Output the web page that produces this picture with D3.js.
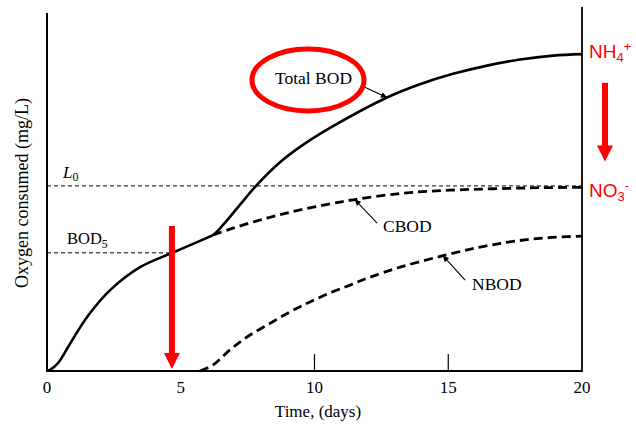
<!DOCTYPE html>
<html>
<head>
<meta charset="utf-8">
<script src="https://cdn.jsdelivr.net/npm/d3@7"></script>
<style>
    body { margin: 0; background: #fff; }
    svg { display: block; }
    .serif { font-family: "Liberation Serif", "DejaVu Serif", serif; fill: #000; }
    .red { font-family: "Liberation Sans", Arial, sans-serif; fill: #ff0000; }
</style>
</head>
<body>
<script>
// days, mg/L (no values printed on the y axis, units are relative)
var totalDays = [0, 0.11, 0.41, 0.75, 1.12, 1.61, 2.36, 3.48, 4.71, 5.98, 6.21, 6.58, 7.21, 7.85, 8.71, 9.46, 10.58, 12.71, 13.94, 15.18, 16.45, 17.68, 18.92, 20];
var totalBOD = [0, 0.03, 0.22, 0.62, 1.08, 1.62, 2.26, 2.90, 3.31, 3.72, 3.80, 4.08, 4.64, 5.20, 5.83, 6.26, 6.79, 7.64, 8.01, 8.30, 8.53, 8.70, 8.81, 8.85];

var cbodDays = [6.21, 6.95, 8.22, 9.46, 10.95, 11.51, 13.20, 15.07, 18.43, 20];
var cbod = [3.80, 3.99, 4.27, 4.50, 4.72, 4.79, 4.96, 5.05, 5.12, 5.13];

var nbodDays = [5.72, 6.21, 6.84, 7.48, 8.22, 9.08, 9.83, 10.58, 11.33, 12.00, 13.20, 14.80, 16.19, 17.42, 18.69, 20];
var nbod = [0, 0.17, 0.59, 0.95, 1.28, 1.65, 1.93, 2.18, 2.40, 2.60, 2.90, 3.22, 3.46, 3.62, 3.72, 3.77];

var L0 = 5.17;
var BOD5 = 3.30;
var bod5Day = 4.67;

var tickLabels = [0, 5, 10, 15, 20];
var innerTicks = [10, 15];

var width = 636,
    height = 425;

var x = d3.scaleLinear().domain([0, 20]).range([47, 582]);
var y = d3.scaleLinear().domain([0, 10]).range([371, 13]);

var svg = d3.select("body").append("svg")
    .attr("width", width)
    .attr("height", height);

var line = d3.line()
    .x(function (d) { return x(d[0]); })
    .y(function (d) { return y(d[1]); })
    .curve(d3.curveCatmullRom.alpha(0.5));

function pairs(xs, ys) {
    return xs.map(function (d, i) { return [d, ys[i]]; });
}

// reference lines L0 and BOD5
svg.append("line")
    .attr("x1", x(0)).attr("x2", x(20))
    .attr("y1", y(L0)).attr("y2", y(L0))
    .attr("stroke", "#000").attr("stroke-width", 1)
    .attr("stroke-dasharray", "4,3");

svg.append("line")
    .attr("x1", x(0)).attr("x2", x(bod5Day))
    .attr("y1", y(BOD5)).attr("y2", y(BOD5))
    .attr("stroke", "#000").attr("stroke-width", 1)
    .attr("stroke-dasharray", "4,3");

// curves
svg.append("path")
    .datum(pairs(totalDays, totalBOD))
    .attr("d", line)
    .attr("fill", "none").attr("stroke", "#000").attr("stroke-width", 2.6);

svg.append("path")
    .datum(pairs(cbodDays, cbod))
    .attr("d", line)
    .attr("fill", "none").attr("stroke", "#000").attr("stroke-width", 2.8)
    .attr("stroke-dasharray", "9,5");

svg.append("path")
    .datum(pairs(nbodDays, nbod))
    .attr("d", line)
    .attr("fill", "none").attr("stroke", "#000").attr("stroke-width", 2.8)
    .attr("stroke-dasharray", "9,5");

// frame
svg.append("line").attr("x1", x(0)).attr("x2", x(0)).attr("y1", 13).attr("y2", y(0) + 1)
    .attr("stroke", "#000").attr("stroke-width", 2);
svg.append("line").attr("x1", x(0)).attr("x2", x(20)).attr("y1", y(0)).attr("y2", y(0))
    .attr("stroke", "#000").attr("stroke-width", 2);
svg.append("line").attr("x1", x(20)).attr("x2", x(20)).attr("y1", 7).attr("y2", y(0) + 1)
    .attr("stroke", "#000").attr("stroke-width", 1.8);

svg.selectAll(".tick-in")
    .data(innerTicks)
    .enter().append("line")
    .attr("x1", function (d) { return x(d); })
    .attr("x2", function (d) { return x(d); })
    .attr("y1", y(0)).attr("y2", y(0) - 17)
    .attr("stroke", "#000").attr("stroke-width", 1.2);

svg.selectAll(".tick-label")
    .data(tickLabels)
    .enter().append("text")
    .attr("class", "serif")
    .attr("x", function (d) { return x(d); })
    .attr("y", 393)
    .attr("text-anchor", "middle")
    .style("font-size", "17px")
    .text(function (d) { return d; });

svg.append("text")
    .attr("class", "serif")
    .attr("x", 318).attr("y", 417)
    .attr("text-anchor", "middle")
    .style("font-size", "17px")
    .text("Time, (days)");

svg.append("text")
    .attr("class", "serif")
    .attr("transform", "translate(28,193) rotate(-90)")
    .attr("text-anchor", "middle")
    .style("font-size", "18px")
    .text("Oxygen consumed (mg/L)");

// L0 and BOD5 labels
var l0 = svg.append("text").attr("class", "serif")
    .attr("x", 63).attr("y", 178).style("font-size", "17px");
l0.append("tspan").style("font-style", "italic").text("L");
l0.append("tspan").attr("dy", 3).style("font-size", "12px").text("0");

var b5 = svg.append("text").attr("class", "serif")
    .attr("x", 67).attr("y", 244).style("font-size", "16.5px");
b5.append("tspan").text("BOD");
b5.append("tspan").attr("dy", 4).style("font-size", "12px").text("5");

// curve labels with little arrows
var labels = [
    { text: "Total BOD", tx: 275, ty: 84, from: [11.78, 7.96], to: [12.71, 7.64] },
    { text: "CBOD", tx: 383, ty: 232, from: [12.34, 4.13], to: [11.51, 4.79] },
    { text: "NBOD", tx: 472, ty: 290, from: [15.63, 2.54], to: [14.80, 3.22] }
];

svg.append("defs").append("marker")
    .attr("id", "tip")
    .attr("viewBox", "0 0 10 10")
    .attr("refX", 10).attr("refY", 5)
    .attr("markerWidth", 8).attr("markerHeight", 6)
    .attr("markerUnits", "userSpaceOnUse")
    .attr("orient", "auto")
    .append("path").attr("d", "M0,0L10,5L0,10Z").attr("fill", "#000");

labels.forEach(function (d) {
    svg.append("text").attr("class", "serif")
        .attr("x", d.tx).attr("y", d.ty)
        .style("font-size", "17.5px")
        .text(d.text);
    svg.append("line")
        .attr("x1", x(d.from[0])).attr("y1", y(d.from[1]))
        .attr("x2", x(d.to[0])).attr("y2", y(d.to[1]))
        .attr("stroke", "#000").attr("stroke-width", 1.1)
        .attr("marker-end", "url(#tip)");
});

// red highlights
svg.append("ellipse")
    .attr("cx", 308).attr("cy", 80).attr("rx", 56).attr("ry", 31)
    .attr("fill", "none").attr("stroke", "#ff0000").attr("stroke-width", 5);

function redArrow(xp, y1, y2) {
    svg.append("rect")
        .attr("x", xp - 3).attr("y", y1)
        .attr("width", 6).attr("height", y2 - y1 - 15)
        .attr("fill", "#ff0000");
    svg.append("path")
        .attr("d", "M" + (xp - 8) + "," + (y2 - 16) + "L" + (xp + 8) + "," + (y2 - 16) + "L" + xp + "," + y2 + "Z")
        .attr("fill", "#ff0000");
}

redArrow(x(bod5Day), y(4.05), y(0) - 2);
redArrow(x(20) + 23, y(8.05), y(5.85));

var nh4 = svg.append("text").attr("class", "red")
    .attr("x", x(20) + 7).attr("y", 58).style("font-size", "19px");
nh4.append("tspan").text("NH");
nh4.append("tspan").attr("dy", 4).style("font-size", "13px").text("4");
nh4.append("tspan").attr("dy", -11).style("font-size", "13px").text("+");

var no3 = svg.append("text").attr("class", "red")
    .attr("x", x(20) + 7).attr("y", 197).style("font-size", "19px");
no3.append("tspan").text("NO");
no3.append("tspan").attr("dy", 4).style("font-size", "13px").text("3");
no3.append("tspan").attr("dy", -11).style("font-size", "13px").text("-");
</script>
</body>
</html>
